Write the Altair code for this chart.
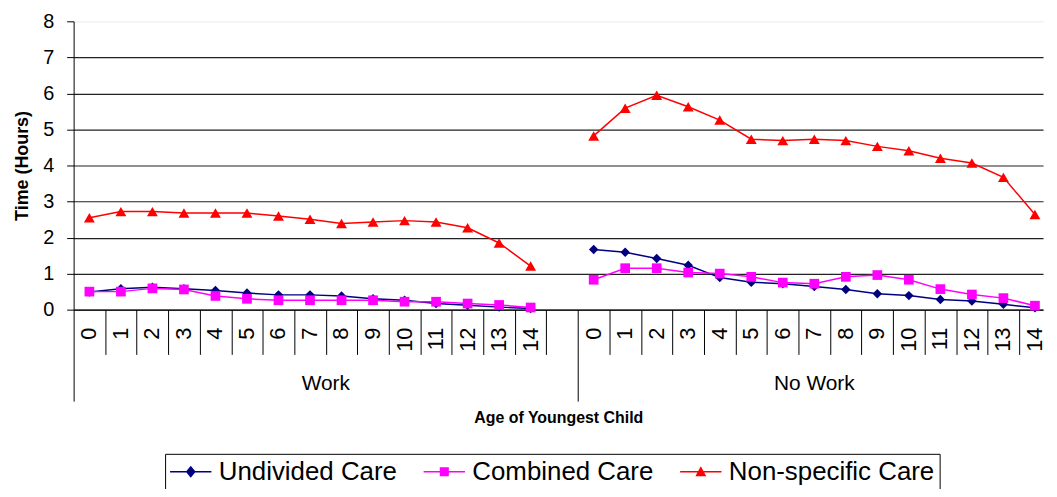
import altair as alt
import pandas as pd

# ---------------- data ----------------
ages = list(range(15))
groups = ["Work", "No Work"]
group_offsets = [0, 16]          # slot where each group starts (Work has a blank 16th slot)
series = ["Undivided Care", "Combined Care", "Non-specific Care"]
colors = ["#000080", "#FF00FF", "#FF0000"]

work_undivided = [0.49, 0.58, 0.62, 0.58, 0.53, 0.46, 0.41, 0.41, 0.38, 0.30, 0.26, 0.17, 0.12, 0.07, 0.03]
work_combined = [0.50, 0.50, 0.59, 0.56, 0.38, 0.30, 0.26, 0.26, 0.26, 0.26, 0.22, 0.22, 0.17, 0.13, 0.06]
work_nonspecific = [2.55, 2.72, 2.72, 2.68, 2.68, 2.68, 2.60, 2.51, 2.39, 2.43, 2.47, 2.43, 2.27, 1.85, 1.21]
nowork_undivided = [1.67, 1.59, 1.42, 1.23, 0.89, 0.76, 0.72, 0.64, 0.56, 0.44, 0.39, 0.28, 0.24, 0.15, 0.05]
nowork_combined = [0.83, 1.15, 1.15, 1.03, 1.00, 0.91, 0.75, 0.72, 0.91, 0.96, 0.83, 0.57, 0.42, 0.32, 0.11]
nowork_nonspecific = [4.82, 5.59, 5.95, 5.63, 5.26, 4.73, 4.69, 4.73, 4.69, 4.53, 4.41, 4.20, 4.07, 3.67, 2.64]

values = {
    ("Work", "Undivided Care"): work_undivided,
    ("Work", "Combined Care"): work_combined,
    ("Work", "Non-specific Care"): work_nonspecific,
    ("No Work", "Undivided Care"): nowork_undivided,
    ("No Work", "Combined Care"): nowork_combined,
    ("No Work", "Non-specific Care"): nowork_nonspecific,
}

rows = []
for g, off in zip(groups, group_offsets):
    for s in series:
        for a, v in zip(ages, values[(g, s)]):
            rows.append({"group": g, "series": s, "age": a, "x": off + a + 0.5, "value": v})
df = pd.DataFrame(rows)

label_df = pd.DataFrame(
    [{"x": off + a + 0.5, "label": str(a)} for off in group_offsets for a in ages]
)
group_df = pd.DataFrame(
    {"x": [8.0, 23.5], "label": groups}
)

# ---------------- styling ----------------
FONT = "Liberation Sans"
W, H = 975, 290
SLOT = 31.7
XMAX = W / SLOT

marker_shapes = ["diamond", "square", "triangle-up"]
marker_sizes = [90, 95, 120]
legend_paths = [
    "M-1,-0.06H2.2V0.06H-1Z M0.6,-0.46L0.98,0L0.6,0.46L0.22,0Z",
    "M-1,-0.06H2.2V0.06H-1Z M0.25,-0.35H0.95V0.35H0.25Z",
    "M-1,-0.06H2.2V0.06H-1Z M0.6,-0.42L1.02,0.35H0.18Z",
]

xenc = alt.X(
    "x:Q",
    scale=alt.Scale(domain=[0, XMAX], nice=False, zero=False),
    axis=alt.Axis(
        values=list(range(31)),
        labels=False,
        grid=False,
        domainColor="black",
        domainWidth=1,
        tickColor="black",
        tickWidth=1,
        tickSize={"condition": {"test": "datum.value == 0 || datum.value == 16", "value": 92}, "value": 45},
        title="Age of Youngest Child",
        titleFont=FONT,
        titleFontSize=16,
        titleFontWeight="bold",
        titleColor="black",
        titleY=109,
        titleBaseline="middle",
    ),
)
yenc = alt.Y(
    "value:Q",
    scale=alt.Scale(domain=[0, 8], nice=False, zero=True),
    axis=alt.Axis(
        values=list(range(9)),
        grid=True,
        gridColor={"condition": {"test": "datum.value == 8", "value": "#eeeeee"}, "value": "#222222"},
        gridWidth=1.2,
        domainColor="black",
        tickColor="black",
        tickSize=7,
        labelFont=FONT,
        labelFontSize=20,
        labelColor="black",
        labelPadding=13,
        title="Time (Hours)",
        titleFont=FONT,
        titleFontSize=18,
        titleFontWeight="bold",
        titleColor="black",
        titlePadding=11,
    ),
)

layers = []
for s, c, shp, sz in zip(series, colors, marker_shapes, marker_sizes):
    sub = df[df["series"] == s]
    layers.append(
        alt.Chart(sub).mark_line(color=c, strokeWidth=1.5).encode(
            x=xenc, y=yenc, detail="group:N", order="x:Q"
        )
    )
    layers.append(
        alt.Chart(sub).mark_point(filled=True, opacity=1, shape=shp, size=sz, color=c).encode(
            x=xenc, y=yenc
        )
    )

age_text = alt.Chart(label_df).mark_text(
    angle=270, align="right", baseline="middle", font=FONT, fontSize=22, color="black"
).encode(x=xenc, y=alt.value(H + 18), text="label:N")

group_text = alt.Chart(group_df).mark_text(
    align="center", baseline="middle", font=FONT, fontSize=21, color="black"
).encode(x=xenc, y=alt.value(H + 75), text="label:N")

legend_common = dict(
    title=None,
    orient="none",
    legendX=92,
    legendY=435,
    direction="horizontal",
    columns=3,
    symbolSize=676,
    symbolStrokeWidth=0,
    symbolOpacity=1,
    labelFont=FONT,
    labelFontSize=26,
    labelColor="black",
    labelOffset=23,
    labelLimit=600,
    columnPadding=26,
    padding=5,
    strokeColor="black",
    fillColor="white",
)

legend_layer = alt.Chart(df).mark_point(filled=True, opacity=1).encode(
    x=xenc,
    y=yenc,
    color=alt.Color("series:N", scale=alt.Scale(domain=series, range=colors), legend=alt.Legend(**legend_common)),
    shape=alt.Shape("series:N", scale=alt.Scale(domain=series, range=legend_paths), legend=alt.Legend(**legend_common)),
).transform_filter("false")

chart = alt.layer(*layers, age_text, group_text, legend_layer).properties(
    width=W,
    height=H,
    autosize=alt.AutoSizeParams(type="none"),
    padding={"left": 66, "top": 12, "right": 6, "bottom": 179},
    background="white",
).configure_view(stroke="transparent")

chart.save("out.html", embed_options={"renderer": "svg", "actions": False})
